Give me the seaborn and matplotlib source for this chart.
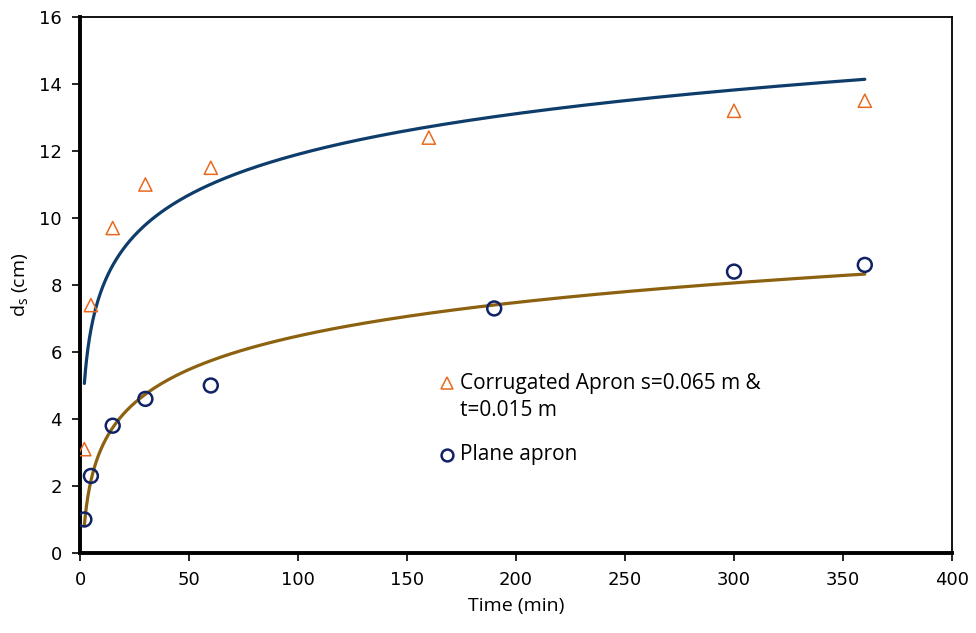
import numpy as np
import pandas as pd
import matplotlib
matplotlib.use("Agg")
import matplotlib.pyplot as plt
import seaborn as sns

# Data
corr_time = [2, 5, 15, 30, 60, 160, 300, 360]
corr_ds = [3.1, 7.4, 9.7, 11.0, 11.5, 12.4, 13.2, 13.5]
plane_time = [2, 5, 15, 30, 60, 190, 300, 360]
plane_ds = [1.0, 2.3, 3.8, 4.6, 5.0, 7.3, 8.4, 8.6]
x_ticks = [0, 50, 100, 150, 200, 250, 300, 350, 400]
y_ticks = [0, 2, 4, 6, 8, 10, 12, 14, 16]
corr_label_lines = ["Corrugated Apron s=0.065 m &", "t=0.015 m"]
plane_label = "Plane apron"

sns.set_theme(style="white")
plt.rcParams['font.family'] = ['Open Sans', 'DejaVu Sans']

fig = plt.figure(figsize=(9.76, 6.33), dpi=100)
ax = fig.add_axes([80/976, 80/633, 872/976, 536/633])

corr = pd.DataFrame({"t": corr_time, "d": corr_ds})
plane = pd.DataFrame({"t": plane_time, "d": plane_ds})


def log_trend(df):
    # least-squares logarithmic trendline fitted to the data
    b, a = np.polyfit(np.log(df["t"]), df["d"], 1)
    tt = np.geomspace(df["t"].min(), df["t"].max(), 400)
    return pd.DataFrame({"t": tt, "d": a + b * np.log(tt)})


sns.lineplot(data=log_trend(corr), x="t", y="d", color="#0E3D6B", lw=2.3, ax=ax)
sns.lineplot(data=log_trend(plane), x="t", y="d", color="#8C6210", lw=2.3, ax=ax)

sns.scatterplot(data=corr, x="t", y="d", marker="^", s=90, facecolor="none",
                edgecolor="#E8691E", linewidth=1.1, ax=ax, zorder=4)
sns.scatterplot(data=plane, x="t", y="d", marker="o", s=100, facecolor="none",
                edgecolor="#0F2266", linewidth=1.8, ax=ax, zorder=4)

ax.set_xlim(0, 400)
ax.set_ylim(0, 16)
ax.set_xticks(x_ticks)
ax.set_yticks(y_ticks)
ax.set_xticklabels([str(v) for v in x_ticks])
ax.set_yticklabels([str(v) for v in y_ticks])
for lab in ax.get_xticklabels() + ax.get_yticklabels():
    lab.set_fontfamily("DejaVu Sans")
    lab.set_fontsize(13)
    lab.set_color("black")
ax.tick_params(axis="both", direction="out", length=6, width=1.2, color="black",
               bottom=True, left=True, pad=7)

ax.set_xlabel("Time (min)", fontsize=14, labelpad=6, color="black")
ax.set_ylabel(r"d$_\mathregular{s}$ (cm)", fontsize=14, labelpad=6, color="black")

for side in ["top", "right"]:
    ax.spines[side].set_linewidth(1.3)
    ax.spines[side].set_color("black")
for side in ["bottom", "left"]:
    ax.spines[side].set_linewidth(2.8)
    ax.spines[side].set_color("black")

# Legend (manual, marker aligned with first text line as in the original)
tr = ax.transAxes
lx_marker, lx_text = 0.4205, 0.4358
y1, y2, y3 = 0.317, 0.2665, 0.183
ax.plot([lx_marker], [y1], transform=tr, marker="^", ls="none",
        markerfacecolor="none", markeredgecolor="#E8691E", markersize=8.5,
        markeredgewidth=1.1, clip_on=False)
ax.plot([lx_marker], [y3], transform=tr, marker="o", ls="none",
        markerfacecolor="none", markeredgecolor="#0F2266", markersize=8.5,
        markeredgewidth=1.8, clip_on=False)
ax.text(lx_text, y1, corr_label_lines[0], transform=tr, fontsize=15,
        va="center", ha="left", color="black")
ax.text(lx_text, y2, corr_label_lines[1], transform=tr, fontsize=15,
        va="center", ha="left", color="black")
ax.text(lx_text, y3, plane_label, transform=tr, fontsize=15,
        va="center", ha="left", color="black")

fig.savefig("out.png", dpi=100)
